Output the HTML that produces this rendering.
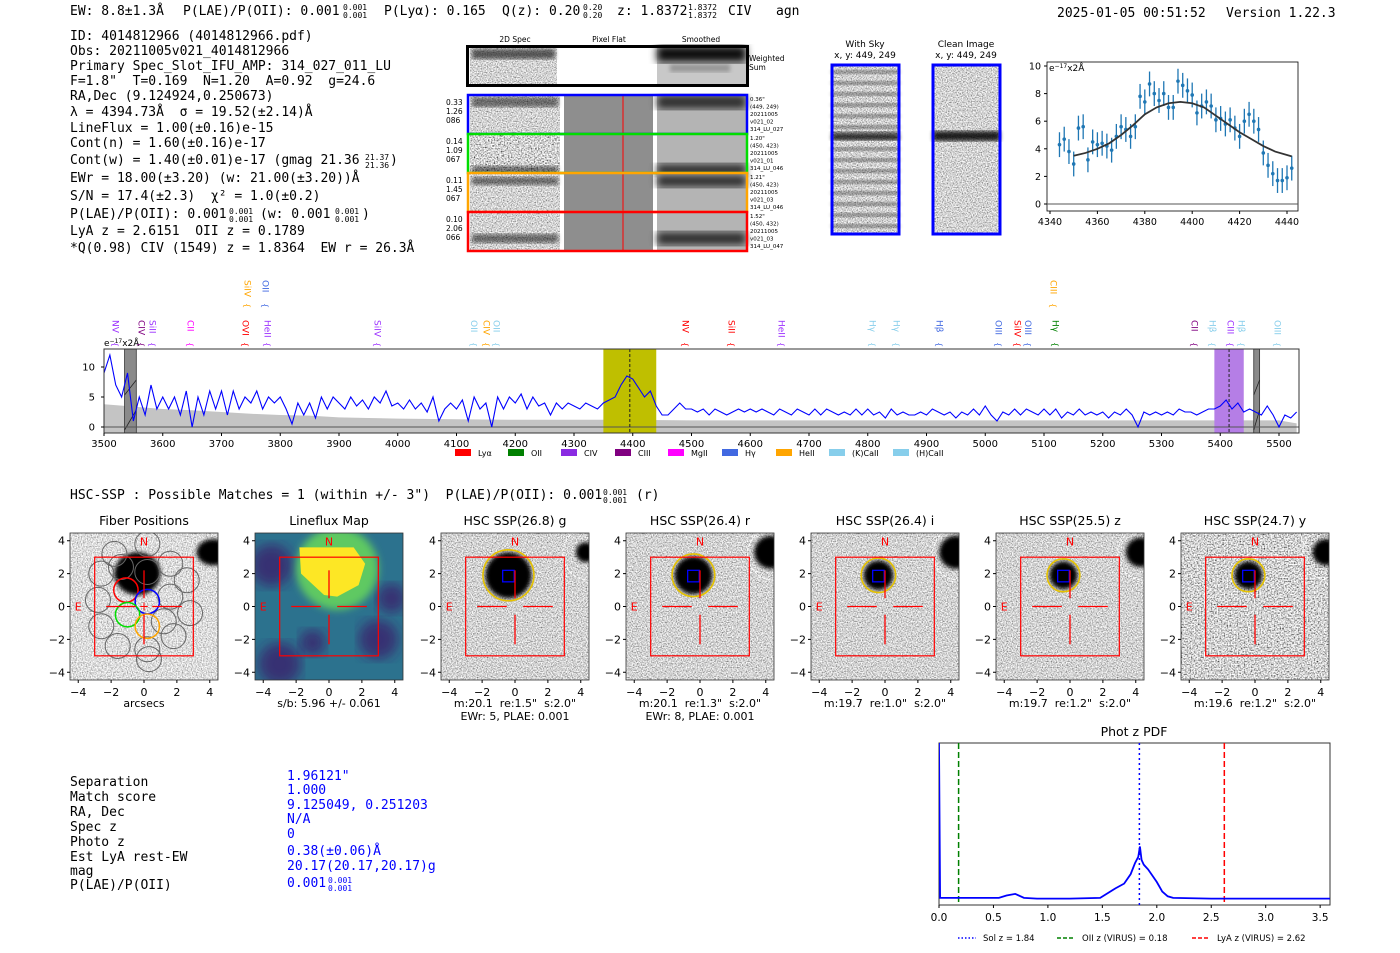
<!DOCTYPE html>
<html><head><meta charset="utf-8">
<style>
html,body{margin:0;padding:0;background:#fff;}
svg{display:block;}
text{white-space:pre;}
.mono{font-family:"DejaVu Sans Mono","Liberation Mono",monospace;}
.sans{font-family:"DejaVu Sans","Liberation Sans",sans-serif;}
</style></head>
<body>
<svg id="root" width="1400" height="953" viewBox="0 0 1400 953" xmlns="http://www.w3.org/2000/svg" xml:space="preserve">
<defs id="defs">
<filter id="nzL" x="0" y="0" width="100%" height="100%"><feTurbulence type="fractalNoise" baseFrequency="0.8" numOctaves="1" seed="3"/><feColorMatrix type="matrix" values="1.6 0 0 0 -0.08 1.6 0 0 0 -0.08 1.6 0 0 0 -0.08 0 0 0 0 1"/></filter>
<filter id="nzM" x="0" y="0" width="100%" height="100%"><feTurbulence type="fractalNoise" baseFrequency="0.8" numOctaves="1" seed="7"/><feColorMatrix type="matrix" values="1.7 0 0 0 -0.2 1.7 0 0 0 -0.2 1.7 0 0 0 -0.2 0 0 0 0 1"/></filter>
<filter id="nzS" x="0" y="0" width="100%" height="100%"><feTurbulence type="fractalNoise" baseFrequency="0.7" numOctaves="1" seed="11"/><feColorMatrix type="matrix" values="2.2 0 0 0 -0.45 2.2 0 0 0 -0.45 2.2 0 0 0 -0.45 0 0 0 0 1"/></filter>
<filter id="bl4"><feGaussianBlur stdDeviation="4"/></filter>
<filter id="bl2"><feGaussianBlur stdDeviation="2"/></filter>
<filter id="bl6"><feGaussianBlur stdDeviation="6"/></filter>
<clipPath id="specClip"><rect x="104" y="349" width="1195" height="84"/></clipPath>
<clipPath id="pdfClip"><rect x="939" y="743" width="391" height="162"/></clipPath>
</defs>

<!-- header -->
<g class="mono" font-size="13" fill="#000">
<text x="70" y="15">EW: 8.8±1.3Å</text>
<text x="183" y="15">P(LAE)/P(OII): 0.001</text>
<text x="343" y="10" font-size="8">0.001</text><text x="343" y="18" font-size="8">0.001</text>
<text x="384" y="15">P(Lyα): 0.165</text>
<text x="502" y="15">Q(z): 0.20</text>
<text x="583" y="10" font-size="8">0.20</text><text x="583" y="18" font-size="8">0.20</text>
<text x="617" y="15">z: 1.8372</text>
<text x="688" y="10" font-size="8">1.8372</text><text x="688" y="18" font-size="8">1.8372</text>
<text x="728" y="15">CIV</text>
<text x="776" y="15">agn</text>
<text x="1057" y="17">2025-01-05 00:51:52</text>
<text x="1226" y="17">Version 1.22.3</text>
</g>

<!-- left info block -->
<g class="mono" font-size="13" fill="#000">
<text x="70" y="40">ID: 4014812966 (4014812966.pdf)</text>
<text x="70" y="55">Obs: 20211005v021_4014812966</text>
<text x="70" y="70">Primary Spec_Slot_IFU_AMP: 314_027_011_LU</text>
<text x="70" y="85">F=1.8"  T=0.169  N=1.20  A=0.92  g=24.6</text>
<text x="70" y="100">RA,Dec (9.124924,0.250673)</text>
<text x="70" y="116">λ = 4394.73Å  σ = 19.52(±2.14)Å</text>
<text x="70" y="132">LineFlux = 1.00(±0.16)e-15</text>
<text x="70" y="147">Cont(n) = 1.60(±0.16)e-17</text>
<text x="70" y="164">Cont(w) = 1.40(±0.01)e-17 (gmag 21.36</text>
<text x="365" y="160" font-size="8">21.37</text><text x="365" y="168" font-size="8">21.36</text>
<text x="390" y="164">)</text>
<text x="70" y="182">EWr = 18.00(±3.20) (w: 21.00(±3.20))Å</text>
<text x="70" y="200">S/N = 17.4(±2.3)  χ² = 1.0(±0.2)</text>
<text x="70" y="218">P(LAE)/P(OII): 0.001</text>
<text x="229" y="214" font-size="8">0.001</text><text x="229" y="222" font-size="8">0.001</text>
<text x="260" y="218">(w: 0.001</text>
<text x="335" y="214" font-size="8">0.001</text><text x="335" y="222" font-size="8">0.001</text>
<text x="362" y="218">)</text>
<text x="70" y="235">LyA z = 2.6151  OII z = 0.1789</text>
<text x="70" y="252">*Q(0.98) CIV (1549) z = 1.8364  EW r = 26.3Å</text>
</g>

<!-- 2D spectra cutouts -->
<g id="twod" class="sans">
<g font-size="7.5" fill="#000">
<text x="515" y="42" text-anchor="middle">2D Spec</text>
<text x="609" y="42" text-anchor="middle">Pixel Flat</text>
<text x="701" y="42" text-anchor="middle">Smoothed</text>
<text x="749" y="61">Weighted</text><text x="749" y="70">Sum</text>
</g>
<rect x="470" y="48" width="87" height="36" filter="url(#nzM)"/>
<rect x="472" y="49" width="83" height="10" fill="#222" opacity="0.7" filter="url(#bl2)"/>
<rect x="657" y="48" width="89" height="36" fill="#c8c8c8"/>
<rect x="657" y="46" width="89" height="16" fill="#111" filter="url(#bl4)"/>
<rect x="670" y="64" width="60" height="8" fill="#777" opacity="0.6" filter="url(#bl2)"/>
<rect x="467.5" y="46.5" width="280" height="39" fill="none" stroke="#000" stroke-width="3"/>
</g>

<!-- With Sky / Clean -->
<g>
<text class="sans" font-size="9" x="865" y="47" text-anchor="middle">With Sky</text>
<text class="sans" font-size="9" x="865" y="58" text-anchor="middle">x, y: 449, 249</text>
<rect x="832" y="65" width="67" height="169" filter="url(#nzM)"/>
<g id="skyStripes"></g>
<rect x="832" y="65" width="67" height="169" fill="none" stroke="#0000ff" stroke-width="3"/>
</g>
<g>
<text class="sans" font-size="9" x="966" y="47" text-anchor="middle">Clean Image</text>
<text class="sans" font-size="9" x="966" y="58" text-anchor="middle">x, y: 449, 249</text>
<rect x="933" y="65" width="67" height="169" filter="url(#nzM)"/>
<rect x="933" y="131" width="67" height="10" fill="#000" opacity="0.85" filter="url(#bl2)"/>
<rect x="933" y="65" width="67" height="169" fill="none" stroke="#0000ff" stroke-width="3"/>
</g>

<!-- zoom fit plot -->
<g id="fitPlot" class="sans" font-size="10">
<rect x="1047" y="62" width="251" height="149" fill="none" stroke="#000" stroke-width="0.8"/>
<text x="1049" y="71" font-size="9">e<tspan font-size="6" dy="-3">−17</tspan><tspan dy="3">x2Å</tspan></text>
</g>

<!-- main spectrum -->
<g id="spec" class="sans" font-size="10">
<text x="104" y="346" font-size="9">e<tspan font-size="6" dy="-3">−17</tspan><tspan dy="3">x2Å</tspan></text>
</g>

<!-- HSC line -->
<g class="mono" font-size="13">
<text x="70" y="499">HSC-SSP : Possible Matches = 1 (within +/- 3")  P(LAE)/P(OII): 0.001</text>
<text x="603" y="495" font-size="8">0.001</text><text x="603" y="503" font-size="8">0.001</text>
<text x="636" y="499">(r)</text>
</g>

<g id="cutouts" class="sans" font-size="11"></g>

<!-- bottom-left table -->
<g class="mono" font-size="13">
<g fill="#000">
<text x="70" y="786">Separation</text>
<text x="70" y="801">Match score</text>
<text x="70" y="816">RA, Dec</text>
<text x="70" y="831">Spec z</text>
<text x="70" y="846">Photo z</text>
<text x="70" y="861">Est LyA rest-EW</text>
<text x="70" y="875">mag</text>
<text x="70" y="889">P(LAE)/P(OII)</text>
</g>
<g fill="#0000ff">
<text x="287" y="780">1.96121"</text>
<text x="287" y="794">1.000</text>
<text x="287" y="809">9.125049, 0.251203</text>
<text x="287" y="823">N/A</text>
<text x="287" y="838">0</text>
<text x="287" y="855">0.38(±0.06)Å</text>
<text x="287" y="870">20.17(20.17,20.17)g</text>
<text x="287" y="887">0.001</text>
<text x="328" y="883" font-size="8">0.001</text><text x="328" y="891" font-size="8">0.001</text>
</g>
</g>

<!-- phot z pdf -->
<g id="pdf" class="sans" font-size="10.5">
<text x="1134" y="736" font-size="12.5" text-anchor="middle">Phot z PDF</text>
</g>
</svg>

<script>
// ---------------- data ----------------
const specStart = 3500;
const specStep = 10;
const specFlux = [9,12,7,5,9,1,5,2,7,3,
 5,3,5,2,6,0,5,2,6,3,
 6,2,6,3,5,4,6,3,5,4,
 5,3,0.5,4,2,4,1.5,5,3,5,
 4,3,5,3.5,4.5,3,5,4,6,3.5,
 4,3,4.5,3,4,2.5,5,1,3,4,
 3,4.5,1,5,3,4,0,5,3,5,
 4,5.5,3,5,3.5,4,2,4,3,4,
 3.5,3,4,3.5,3,4,4.5,5,7,8.5,
 8,6.5,5,6,3.5,2,2,3,4,3,
 3,2.5,3,2,3,2.5,2,2.5,3,2.5,
 3,2.5,3,2.5,2,3,2.5,2,3,2.5,
 2,3,2,3,2.5,2,2.5,2,3,2,
 3,2,2.5,1.5,3,2,2.5,2,2,2.5,
 2,3,2.5,2,2.5,1.5,2.5,2,3,2,
 3.5,2,1,2.5,2,3,2,3,2.5,2,
 3,2,3,1.5,2.5,2,3,2,2.5,2,
 2.5,1.5,2.5,2,3,2,0,2.5,2,2.5,
 2,2.5,2,3,2.5,2.5,2,2.5,3,3,
 3.5,4.5,3,4,2.5,3,2.5,2,3.5,2,
 0,2,1.5,2.5];
const skyWave = [3500,3550,3600,3650,3700,3750,3800,3850,3900,3950,4000,4100,4200,4300,4400,4500,4700,5000,5300,5500,5530];
const skyFlux = [3.8,3.4,3.0,2.8,2.5,2.2,2.0,1.9,1.6,1.5,1.4,1.3,1.2,1.2,1.2,1.1,1.1,1.1,1.1,1.1,0.6];
const specTicks = [3500,3600,3700,3800,3900,4000,4100,4200,4300,4400,4500,4600,4700,4800,4900,5000,5100,5200,5300,5400,5500];
const specYTicks = [0,5,10];
const lineWaves = [3520,3565,3583,3648,3742,3779,3966,4131,4152,4169,4491,4569,4654,4809,4850,4923,5023,5056,5074,5120,5357,5388,5418,5437,5498,3745,3776,5117];
const lineNames = ["NV","CIV","SiII","CII","OVI","HeII","SiIV","OII","CIV","OII","NV","SiII","HeII","Hγ","Hγ","Hβ","OIII","SiIV","OIII","Hγ","CII","Hβ","CIII","Hβ","OIII","SiIV","OII","CIII"];
const lineColors = ["#9b30ff","#800080","#9b30ff","#ff00ff","#ff0000","#9b30ff","#9b30ff","#87ceeb","#ffa500","#87ceeb","#ff0000","#ff0000","#9b30ff","#87ceeb","#87ceeb","#4169e1","#4169e1","#ff0000","#4169e1","#008000","#800080","#87ceeb","#9b30ff","#87ceeb","#87ceeb","#ffa500","#4169e1","#ffa500"];
const lineRow = [0,0,0,0,0,0,0,0,0,0,0,0,0,0,0,0,0,0,0,0,0,0,0,0,0,1,1,1];
const legendNames = ["Lyα","OII","CIV","CIII","MgII","Hγ","HeII","(K)CaII","(H)CaII"];
const legendColors = ["#ff0000","#008000","#8a2be2","#800080","#ff00ff","#4169e1","#ffa500","#87ceeb","#87ceeb"];

const fitWave = [4344,4346,4348,4350,4352,4354,4356,4358,4360,4362,4364,4366,4368,4370,4372,4374,4376,4378,4380,4382,4384,4386,4388,4390,4392,4394,4396,4398,4400,4402,4404,4406,4408,4410,4412,4414,4416,4418,4420,4422,4424,4426,4428,4430,4432,4434,4436,4438,4440,4442];
const fitFlux = [4.3,4.7,3.8,2.9,5.5,5.6,3.2,4.5,4.3,4.4,4.2,3.9,4.9,5.6,5.4,4.9,5.6,7.8,7.4,8.7,8.0,7.5,8.0,7.0,7.0,8.9,8.6,8.2,7.9,6.6,7.1,7.4,7.1,6.1,6.2,5.8,6.1,5.5,4.9,6.0,6.5,6.0,5.4,3.7,2.8,2.2,1.7,1.7,1.9,2.6];
const fitErr = 0.9;
const modelWave = [4350,4355,4360,4365,4370,4375,4380,4385,4390,4395,4400,4405,4410,4415,4420,4425,4430,4435,4442];
const modelFlux = [3.5,3.7,4.0,4.4,5.0,5.7,6.5,7.0,7.3,7.4,7.3,7.0,6.4,5.8,5.2,4.7,4.2,3.8,3.45];
const fitXTicks = [4340,4360,4380,4400,4420,4440];
const fitYTicks = [0,2,4,6,8,10];

const pdfZ = [0,0.01,0.3,0.55,0.62,0.7,0.78,0.9,1.2,1.48,1.55,1.62,1.7,1.76,1.8,1.83,1.845,1.86,1.88,1.92,1.97,2.0,2.05,2.1,2.15,2.5,3.0,3.6];
const pdfP = [1.0,0.02,0.02,0.02,0.035,0.045,0.02,0.015,0.015,0.02,0.05,0.08,0.11,0.17,0.24,0.28,0.345,0.26,0.23,0.2,0.15,0.12,0.06,0.03,0.02,0.015,0.015,0.015];
const pdfTicks = [0,0.5,1,1.5,2,2.5,3,3.5];
const pdfLines = [1.84,0.18,2.62];
const pdfLineLabels = ["Sol z = 1.84","OII z (VIRUS) = 0.18","LyA z (VIRUS) = 2.62"];

const panelTitles = ["Fiber Positions","Lineflux Map","HSC SSP(26.8) g","HSC SSP(26.4) r","HSC SSP(26.4) i","HSC SSP(25.5) z","HSC SSP(24.7) y"];
const panelNotes1 = ["arcsecs","s/b: 5.96 +/- 0.061","m:20.1  re:1.5\"  s:2.0\"","m:20.1  re:1.3\"  s:2.0\"","m:19.7  re:1.0\"  s:2.0\"","m:19.7  re:1.2\"  s:2.0\"","m:19.6  re:1.2\"  s:2.0\""];
const panelNotes2 = ["","","EWr: 5, PLAE: 0.001","EWr: 8, PLAE: 0.001","","",""];
const apRadius = [1.55,1.3,1.05,1.0,1.0];
const blobRadius = [0.6,1.0,1.0,0.9,0.8];

// ---------------- helpers ----------------
const NS = "http://www.w3.org/2000/svg";
function mk(tag, parent){ const e=document.createElementNS(NS,tag); parent.appendChild(e); return e; }
function at(e, o){ for(const k in o) e.setAttribute(k,o[k]); return e; }

// ---------------- spectrum ----------------
const spec = document.getElementById('spec');
const xS = w => 104 + (w-3500)*0.5875;
const yS = v => 427 - v*6;
const axTop=349, axBot=433;
{
  const g = mk('g', spec); g.setAttribute('clip-path','url(#specClip)');
  let pts = xS(skyWave[0])+','+axBot+' ';
  skyWave.forEach((w,i)=>{ pts += xS(w)+','+yS(skyFlux[i])+' '; });
  pts += xS(skyWave[skyWave.length-1])+','+axBot;
  const sky = at(mk('polygon',g),{points:pts,fill:'#c4c4c4'});
  
  
  const yb = at(mk('rect',g),{x:xS(4350),y:axTop,width:xS(4440)-xS(4350),height:axBot-axTop,fill:'#bfbf00'});
  
  
  const pb = at(mk('rect',g),{x:xS(5390),y:axTop,width:xS(5440)-xS(5390),height:axBot-axTop,fill:'#b57ee6'});
  
  
  [[3535,3555],[5457,5467]].forEach(r=>{
    const m = at(mk('rect',g),{x:xS(r[0]),y:axTop,width:xS(r[1])-xS(r[0]),height:axBot-axTop,fill:'#8a8a8a',stroke:'#333','stroke-width':0.8});
    
    
    at(mk('line',g),{x1:xS(r[0]),y1:395,x2:xS(r[1]),y2:380,stroke:'#222','stroke-width':0.8});
    at(mk('line',g),{x1:xS(r[0]),y1:430,x2:xS(r[1]),y2:410,stroke:'#222','stroke-width':0.8});
  });
  at(mk('line',g),{x1:104,y1:yS(0),x2:1299,y2:yS(0),stroke:'#555','stroke-width':1});
  [4395,5415].forEach(w=>{ at(mk('line',g),{x1:xS(w),y1:axTop,x2:xS(w),y2:axBot,stroke:'#222','stroke-width':1,'stroke-dasharray':'3,2'}); });
  let sp='';
  specFlux.forEach((v,i)=>{ sp += xS(specStart+i*specStep)+','+yS(v)+' '; });
  const line = at(mk('polyline',g),{points:sp,fill:'none',stroke:'#0000ff','stroke-width':1.1});
  
  
}
{
  at(mk('rect',spec),{x:104,y:axTop,width:1195,height:axBot-axTop,fill:'none',stroke:'#333','stroke-width':1});
  specTicks.forEach(t=>{
    at(mk('line',spec),{x1:xS(t),y1:axBot,x2:xS(t),y2:axBot+3,stroke:'#000'});
    const tx = at(mk('text',spec),{x:xS(t),y:447,'text-anchor':'middle'}); tx.textContent=t;
    
    
  });
  specYTicks.forEach(t=>{
    at(mk('line',spec),{x1:101,y1:yS(t),x2:104,y2:yS(t),stroke:'#000'});
    const tx = at(mk('text',spec),{x:95,y:yS(t)+3.5,'text-anchor':'end'}); tx.textContent=t;
    
    
  });
  lineWaves.forEach((w,i)=>{
    const x = xS(w);
    const yTop = lineRow[i]===0 ? 320 : 280;
    const t = at(mk('text',spec),{x:x-3.5,y:yTop,fill:lineColors[i],'font-size':9,transform:`rotate(90 ${x-3.5} ${yTop})`}); t.textContent=lineNames[i];
    
    
    const bY = lineRow[i]===0 ? 342 : 303;
    const b = at(mk('text',spec),{x:x-3.5,y:bY,fill:lineColors[i],'font-size':8,transform:`rotate(90 ${x-3.5} ${bY})`}); b.textContent='{';
  });
  const lx = [455,508,561,615,668,722,776,829,893];
  legendNames.forEach((n,i)=>{
    const r = at(mk('rect',spec),{x:lx[i],y:449,width:16,height:7,fill:legendColors[i]});
    
    
    const t = at(mk('text',spec),{x:lx[i]+23,y:456,'font-size':8}); t.textContent=n;
    
    
  });
}

// ---------------- fit plot ----------------
const fp = document.getElementById('fitPlot');
const xF = w => 1050 + (w-4340)*2.37;
const yF = v => 204 - v*13.8;
at(mk('line',fp),{x1:1047,y1:yF(0),x2:1298,y2:yF(0),stroke:'#555','stroke-width':1});
fitXTicks.forEach(t=>{
  at(mk('line',fp),{x1:xF(t),y1:211,x2:xF(t),y2:214,stroke:'#000'});
  const tx = at(mk('text',fp),{x:xF(t),y:225,'text-anchor':'middle','font-size':9.5}); tx.textContent=t;
  
  
});
fitYTicks.forEach(t=>{
  at(mk('line',fp),{x1:1044,y1:yF(t),x2:1047,y2:yF(t),stroke:'#000'});
  const tx = at(mk('text',fp),{x:1041,y:yF(t)+3.5,'text-anchor':'end','font-size':9.5}); tx.textContent=t;
  
  
});
fitWave.forEach((w,i)=>{
  const e = at(mk('line',fp),{x1:xF(w),y1:yF(fitFlux[i]-fitErr),x2:xF(w),y2:yF(fitFlux[i]+fitErr),stroke:'#1f77b4','stroke-width':1.3});
  
  
  const c = at(mk('circle',fp),{cx:xF(w),cy:yF(fitFlux[i]),r:1.8,fill:'#1f77b4'});
  
  
});
{
  let p=''; modelWave.forEach((w,i)=>{ p+=xF(w)+','+yF(modelFlux[i])+' '; });
  const m = at(mk('polyline',fp),{points:p,fill:'none',stroke:'#333','stroke-width':1.8});
  
  
}

// ---------------- pdf ----------------
const pdf = document.getElementById('pdf');
const xP = z => 939 + z*108.9;
const yP = p => 901 - p*158;
{
  at(mk('rect',pdf),{x:939,y:743,width:391,height:162,fill:'none',stroke:'#333','stroke-width':1});
  const g = mk('g',pdf); g.setAttribute('clip-path','url(#pdfClip)');
  const cols=['#0000ff','#008000','#ff0000'], dash=['2,3','6,3','6,3'];
  pdfLines.forEach((z,i)=>{
    const l = at(mk('line',g),{x1:xP(z),y1:743,x2:xP(z),y2:905,stroke:cols[i],'stroke-width':1.5,'stroke-dasharray':dash[i]});
    
    
  });
  let p=''; pdfZ.forEach((z,i)=>{ p+=xP(z)+','+yP(pdfP[i])+' '; });
  const pl = at(mk('polyline',g),{points:p,fill:'none',stroke:'#0000ff','stroke-width':1.8});
  
  
  pdfTicks.forEach(t=>{
    at(mk('line',pdf),{x1:xP(t),y1:905,x2:xP(t),y2:908,stroke:'#000'});
    const tx = at(mk('text',pdf),{x:xP(t),y:921,'text-anchor':'middle'}); tx.textContent=t.toFixed(1);
    
    
  });
  const lgx=[958,1057,1192];
  pdfLineLabels.forEach((n,i)=>{
    at(mk('line',pdf),{x1:lgx[i],y1:938,x2:lgx[i]+18,y2:938,stroke:cols[i],'stroke-width':1.5,'stroke-dasharray':dash[i]==='2,3'?'1.5,2':'4,2'});
    const t = at(mk('text',pdf),{x:lgx[i]+25,y:941,'font-size':8.5}); t.textContent=n;
    
    
  });
}

// ---------------- sky stripes ----------------
{
  const ss = document.getElementById('skyStripes');
  for(let y=70;y<230;y+=11){
    at(mk('rect',ss),{x:832,y:y,width:67,height:4,fill:'#333',opacity:0.55,filter:'url(#bl2)'});
  }
  at(mk('rect',ss),{x:832,y:132,width:67,height:8,fill:'#000',opacity:0.7,filter:'url(#bl2)'});
}

// ---------------- 2D spec rows ----------------
{
  const tw = document.getElementById('twod');
  const rowY=[95,134,173,212], rowC=['#0000ff','#00dd00','#ffa500','#ff0000'];
  const lbl=[["0.33","1.26","086"],["0.14","1.09","067"],["0.11","1.45","067"],["0.10","2.06","066"]];
  const rl=[["0.36\"","(449, 249)","20211005","v021_02","314_LU_027"],["1.20\"","(450, 423)","20211005","v021_01","314_LU_046"],["1.21\"","(450, 423)","20211005","v021_03","314_LU_046"],["1.52\"","(450, 432)","20211005","v021_03","314_LU_047"]];
  const dark=[[0,10],[30,8],[2,8],[20,9]];
  rowY.forEach((y,i)=>{
    at(mk('rect',tw),{x:470,y:y+1,width:90,height:37,filter:i==1?'url(#nzS)':'url(#nzM)'});
    at(mk('rect',tw),{x:472,y:y+2+dark[i][0],width:86,height:dark[i][1],fill:'#000',opacity:0.5,filter:'url(#bl2)'});
    at(mk('rect',tw),{x:564,y:y+1,width:89,height:37,fill:'#8e8e8e'});
    at(mk('line',tw),{x1:623,y1:y+1,x2:623,y2:y+38,stroke:'#ff0000','stroke-width':1});
    at(mk('rect',tw),{x:657,y:y+1,width:89,height:37,fill:'#b4b4b4'});
    at(mk('rect',tw),{x:657,y:y+dark[i][0],width:89,height:dark[i][1]+4,fill:'#111',opacity:0.8,filter:'url(#bl4)'});
    const fr = at(mk('rect',tw),{x:468,y:y,width:279,height:39,fill:'none',stroke:rowC[i],'stroke-width':2.5});
    
    
    lbl[i].forEach((s,k)=>{ const t=at(mk('text',tw),{x:446,y:y+10+k*9,'font-size':7.5}); t.textContent=s; });
    rl[i].forEach((s,k)=>{ const t=at(mk('text',tw),{x:750,y:y+6+k*7.5,'font-size':5.5}); t.textContent=s; });
  });
}

// ---------------- cutout panels ----------------
{
  const co = document.getElementById('cutouts');
  const defs = document.getElementById('defs');
  const lefts=[70,255,441,626,811,996,1181];
  const T=533, W=148, H=147, s=16.44;
  lefts.forEach((L,pi)=>{
    const cx=L+74, cy=T+73.5;
    const X = u => cx + u*s, Y = v => cy - v*s;
    const cp = at(mk('clipPath',defs),{id:'pc'+pi});
    at(mk('rect',cp),{x:L,y:T,width:W,height:H});
    const g = mk('g',co);
    
    
    const tt = at(mk('text',g),{x:cx,y:525,'text-anchor':'middle','font-size':12.5}); tt.textContent=panelTitles[pi];
    const ig = mk('g',g); ig.setAttribute('clip-path','url(#pc'+pi+')');
    if(pi===1){
      at(mk('rect',ig),{x:L,y:T,width:W,height:H,fill:'#2c728e'});
      [[-3.5,2.5,1.3],[3,-2,1.2],[-3,-3.5,1.3],[3.8,0.5,0.9],[-1,-2.2,0.8]].forEach(b=>at(mk('circle',ig),{cx:X(b[0]),cy:Y(b[1]),r:b[2]*s,fill:'#3b1f6b',opacity:0.75,filter:'url(#bl6)'}));
      at(mk('circle',ig),{cx:X(0.5),cy:Y(2.3),r:2.5*s,fill:'#5ec962',filter:'url(#bl4)'});
      at(mk('polygon',ig),{points:[[-1.8,3.6],[1.5,3.6],[2.2,2.6],[1.8,1.3],[0.5,0.6],[-0.3,0.7],[-1.7,2.0]].map(p=>X(p[0])+','+Y(p[1])).join(' '),fill:'#fde725'});
    } else {
      at(mk('rect',ig),{x:L,y:T,width:W,height:H,filter:pi===0?'url(#nzL)':(pi===6?'url(#nzS)':'url(#nzM)')});
      if(pi===0){
        at(mk('ellipse',ig),{cx:X(-0.4),cy:Y(2.0),rx:1.4*s,ry:1.3*s,fill:'#000',filter:'url(#bl2)'});
        at(mk('ellipse',ig),{cx:X(4.2),cy:Y(3.3),rx:1.0*s,ry:0.8*s,fill:'#000',filter:'url(#bl2)'});
        const fib=[[-2.6,2],[-1.8,3.2],[0.2,3.8],[1.6,2.6],[2.6,1.6],[-2.8,0.4],[-2.6,-1.2],[-1.6,-2.4],[0.2,-2.6],[1.8,-1.8],[2.8,-0.4],[1.6,0.6],[0.2,2.1],[-1.4,2.4],[1.2,-0.9],[0.3,-3.2]];
        fib.forEach(f=>at(mk('circle',ig),{cx:X(f[0]),cy:Y(f[1]),r:0.76*s,fill:'none',stroke:'#666','stroke-width':1}));
        [[-1.1,1.0,'#ff0000'],[0.2,0.3,'#0000ff'],[-1.0,-0.5,'#00dd00'],[0.2,-1.2,'#ffa500']].forEach(f=>{
          const c=at(mk('circle',ig),{cx:X(f[0]),cy:Y(f[1]),r:0.74*s,fill:'none',stroke:f[2],'stroke-width':1.5});
          
          
        });
        const p=at(mk('text',ig),{x:X(0),y:Y(0)+4,fill:'#ff0000','text-anchor':'middle','font-size':12}); p.textContent='+';
      } else {
        const k=pi-2;
        at(mk('circle',ig),{cx:X(4.3),cy:Y(3.3),r:blobRadius[k]*s,fill:'#000',filter:'url(#bl2)'});
        at(mk('circle',ig),{cx:X(4.5),cy:Y(3.2),r:1.6*s,fill:'none',stroke:'#fff','stroke-width':1,'stroke-dasharray':'3,2'});
        at(mk('circle',ig),{cx:X(-0.4),cy:Y(1.9),r:(apRadius[k]-0.15)*s,fill:'#000',filter:'url(#bl2)'});
        const ap=at(mk('circle',ig),{cx:X(-0.4),cy:Y(1.9),r:apRadius[k]*s,fill:'none',stroke:'#e6c300','stroke-width':1.6});
        
        
        at(mk('rect',ig),{x:X(-0.75),y:Y(2.2),width:0.7*s,height:0.7*s,fill:'none',stroke:'#0000ff','stroke-width':1.3});
      }
    }
    at(mk('rect',ig),{x:X(-3),y:Y(3),width:6*s,height:6*s,fill:'none',stroke:'#ff0000','stroke-width':1.2});
    [[-2.3,0,-0.5,0],[0.5,0,2.3,0],[0,0.5,0,2.2],[0,-0.5,0,-2.3]].forEach(l=>at(mk('line',ig),{x1:X(l[0]),y1:Y(l[1]),x2:X(l[2]),y2:Y(l[3]),stroke:'#ff0000','stroke-width':1.3}));
    const n=at(mk('text',ig),{x:X(0),y:Y(4)+5,fill:'#ff0000','text-anchor':'middle','font-size':11}); n.textContent='N';
    const e=at(mk('text',ig),{x:X(-4),y:Y(0)+4,fill:'#ff0000','text-anchor':'middle','font-size':11}); e.textContent='E';
    at(mk('rect',g),{x:L,y:T,width:W,height:H,fill:'none',stroke:'#333','stroke-width':0.8});
    [-4,-2,0,2,4].forEach(t=>{
      at(mk('line',g),{x1:X(t),y1:T+H,x2:X(t),y2:T+H+3,stroke:'#000'});
      const tx=at(mk('text',g),{x:X(t),y:696,'text-anchor':'middle'}); tx.textContent=(t<0?'−':'')+Math.abs(t);
      at(mk('line',g),{x1:L-3,y1:Y(t),x2:L,y2:Y(t),stroke:'#000'});
      const ty=at(mk('text',g),{x:L-5,y:Y(t)+4,'text-anchor':'end'}); ty.textContent=(t<0?'−':'')+Math.abs(t);
    });
    const n1=at(mk('text',g),{x:cx,y:707,'text-anchor':'middle'}); n1.textContent=panelNotes1[pi];
    if(panelNotes2[pi]){ const n2=at(mk('text',g),{x:cx,y:720,'text-anchor':'middle'}); n2.textContent=panelNotes2[pi]; }
  });
}
</script>
</body></html>
